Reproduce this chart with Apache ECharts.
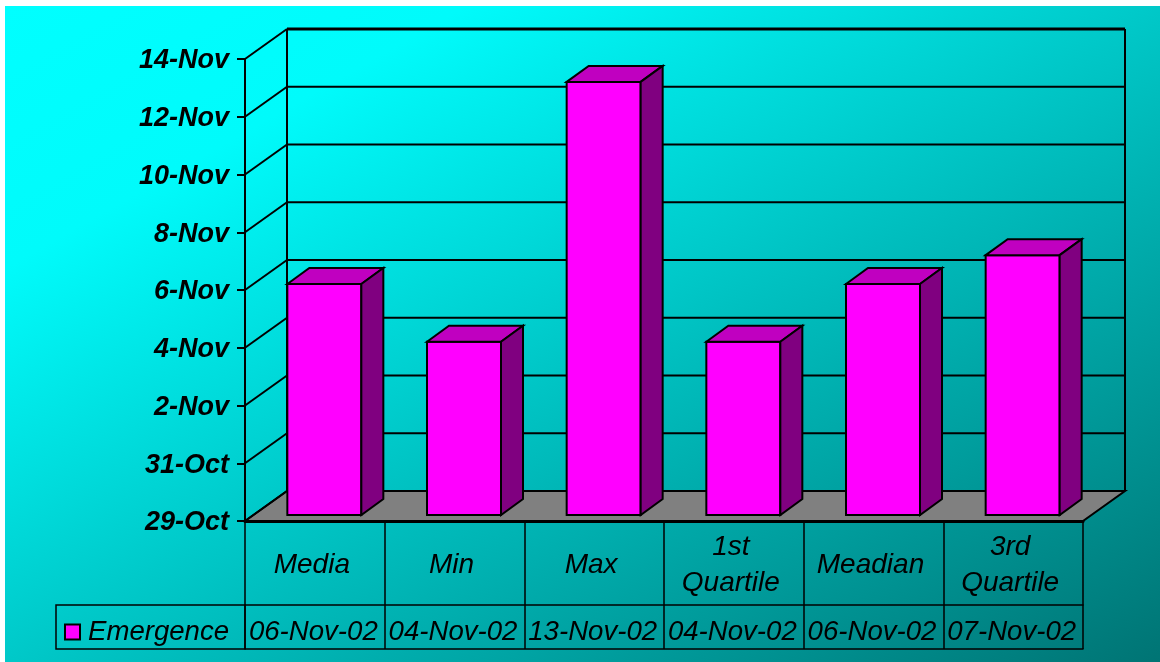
<!DOCTYPE html>
<html>
<head>
<meta charset="utf-8">
<script src="https://cdn.jsdelivr.net/npm/echarts@6/dist/echarts.min.js"></script>
<style>
  html, body { margin: 0; padding: 0; background: #fff; }
  #chart { width: 1160px; height: 662px; }
</style>
</head>
<body>
<div id="chart"></div>
<script>
const categories = ['Media', 'Min', 'Max', '1st\nQuartile', 'Meadian', '3rd\nQuartile'];
const emergenceDates = ['2002-11-06', '2002-11-04', '2002-11-13', '2002-11-04', '2002-11-06', '2002-11-07'];
const seriesName = 'Emergence';
const axisStart = '2002-10-29';
const axisEnd = '2002-11-14';
const tickDays = 2;

const MONTHS = ['Jan', 'Feb', 'Mar', 'Apr', 'May', 'Jun', 'Jul', 'Aug', 'Sep', 'Oct', 'Nov', 'Dec'];
const DAY_MS = 86400000;

// spreadsheet style day number, so the 2 day ticks start on an even value
const toSerial = (s) => Date.parse(s + 'T00:00:00Z') / DAY_MS + 25569;
const fromSerial = (n) => new Date((n - 25569) * DAY_MS);
const tickLabel = (n) => {
  const d = fromSerial(n);
  return d.getUTCDate() + '-' + MONTHS[d.getUTCMonth()];
};
const tableLabel = (s) => {
  const d = new Date(s + 'T00:00:00Z');
  const day = String(d.getUTCDate()).padStart(2, '0');
  return day + '-' + MONTHS[d.getUTCMonth()] + '-' + String(d.getUTCFullYear()).slice(2);
};

const yMin = toSerial(axisStart);
const yMax = toSerial(axisEnd);
const yTicks = [];
for (let v = yMin; v <= yMax; v += tickDays) yTicks.push(v);

// 3d look: wall offset and bar offset, in pixels
const WALL_DX = 42, WALL_DY = -30;
const BAR_DX = 9.5, BAR_DY = -6;
const BAR_W = 74;
const DEPTH_DX = 22, DEPTH_DY = -16;

const line = (x1, y1, x2, y2, w) => ({
  type: 'line',
  shape: { x1, y1, x2, y2 },
  style: { stroke: '#000', lineWidth: w || 2 }
});
const poly = (points, fill) => ({
  type: 'polygon',
  shape: { points },
  style: { fill, stroke: '#000', lineWidth: 2, lineJoin: 'miter' }
});

const chart = echarts.init(document.getElementById('chart'), null, { renderer: 'canvas' });

const textBase = { fontFamily: 'Liberation Sans', color: '#000', fontStyle: 'italic' };

chart.setOption({
  animation: false,
  graphic: [
    {
      type: 'rect',
      z: -100,
      silent: true,
      shape: { x: 5, y: 6, width: 1155, height: 656 },
      style: {
        fill: new echarts.graphic.LinearGradient(5, 6, 568, 998, [
          { offset: 0, color: '#00ffff' },
          { offset: 0.2, color: '#00fbfb' },
          { offset: 1, color: '#007474' }
        ], true)
      }
    },
    {
      // legend cell of the data table
      type: 'rect',
      z: 1,
      silent: true,
      shape: { x: 56, y: 605, width: 189, height: 44 },
      style: { fill: 'none', stroke: '#000', lineWidth: 1.5 }
    }
  ],
  legend: {
    left: 64,
    top: 618,
    padding: 0,
    itemWidth: 15,
    itemHeight: 15,
    itemGap: 0,
    selectedMode: false,
    textStyle: { ...textBase, fontSize: 27.6, padding: [0, 0, 0, 3] },
    data: [{ name: seriesName, icon: 'rect', itemStyle: { color: '#ff00ff', borderColor: '#000', borderWidth: 2 } }]
  },
  grid: { left: 245, right: 77, top: 59, bottom: 141, containLabel: false },
  xAxis: [
    {
      type: 'category',
      data: categories,
      position: 'bottom',
      axisLine: { lineStyle: { color: '#000', width: 3 } },
      axisTick: { show: true, length: 128, lineStyle: { color: '#000', width: 1.5 } },
      axisLabel: {
        ...textBase,
        fontSize: 28,
        lineHeight: 36,
        interval: 0,
        margin: 44,
        verticalAlign: 'middle',
        padding: [0, 6, 0, 0]
      }
    },
    {
      type: 'category',
      data: emergenceDates.map(tableLabel),
      position: 'bottom',
      offset: 84,
      axisLine: { lineStyle: { color: '#000', width: 1.5 } },
      axisTick: { show: false },
      axisLabel: {
        ...textBase,
        fontSize: 27.6,
        interval: 0,
        margin: 27,
        verticalAlign: 'middle',
        padding: [0, 3, 0, 0]
      }
    },
    {
      type: 'category',
      data: categories,
      position: 'bottom',
      offset: 128,
      axisLine: { lineStyle: { color: '#000', width: 1.5 } },
      axisTick: { show: false },
      axisLabel: { show: false }
    }
  ],
  yAxis: {
    type: 'value',
    min: yMin,
    max: yMax,
    interval: tickDays,
    splitLine: { show: false },
    axisLine: { show: true, lineStyle: { color: '#000', width: 2 } },
    axisTick: { show: true, length: 8, lineStyle: { color: '#000', width: 2 } },
    axisLabel: {
      fontFamily: 'Liberation Sans',
      fontStyle: 'italic',
      fontWeight: 'bold',
      fontSize: 27,
      color: '#000',
      margin: 16,
      verticalAlign: 'top',
      lineHeight: 4,
      formatter: tickLabel
    }
  },
  series: [
    {
      // floor of the 3d box, one item
      type: 'custom',
      name: 'floor',
      z: 1,
      silent: true,
      data: [[0, yMin]],
      encode: { x: 0, y: 1 },
      renderItem: (params, api) => {
        const c = params.coordSys;
        const b = c.y + c.height;
        return poly([
          [c.x, b],
          [c.x + WALL_DX, b + WALL_DY],
          [c.x + c.width + WALL_DX, b + WALL_DY],
          [c.x + c.width, b]
        ], '#808080');
      }
    },
    {
      // back wall lines, one per y tick
      type: 'custom',
      name: 'wall',
      z: 1,
      silent: true,
      data: yTicks.map((v) => [0, v]),
      encode: { x: 0, y: 1 },
      renderItem: (params, api) => {
        const c = params.coordSys;
        const y = api.coord([0, api.value(1)])[1];
        const backY = y + WALL_DY;
        const backL = c.x + WALL_DX;
        const backR = c.x + c.width + WALL_DX;
        const isTop = api.value(1) === yMax;
        const children = [
          line(c.x, y, backL, backY),
          line(backL, backY, backR, backY, isTop ? 3 : 2)
        ];
        if (isTop) {
          children.push(line(backL, backY, backL, c.y + c.height + WALL_DY));
          children.push(line(backR, backY, backR, c.y + c.height + WALL_DY));
        }
        return { type: 'group', children };
      }
    },
    {
      type: 'custom',
      name: seriesName,
      z: 3,
      itemStyle: { color: '#ff00ff' },
      data: emergenceDates.map((d, i) => [i, toSerial(d)]),
      encode: { x: 0, y: 1 },
      renderItem: (params, api) => {
        const top = api.coord([api.value(0), api.value(1)]);
        const base = api.coord([api.value(0), yMin]);
        const x0 = top[0] + BAR_DX - BAR_W / 2;
        const x1 = x0 + BAR_W;
        const yt = top[1] + BAR_DY;
        const yb = base[1] + BAR_DY;
        return {
          type: 'group',
          children: [
            poly([[x0, yb], [x0, yt], [x1, yt], [x1, yb]], '#ff00ff'),
            poly([[x0, yt], [x0 + DEPTH_DX, yt + DEPTH_DY], [x1 + DEPTH_DX, yt + DEPTH_DY], [x1, yt]], '#c000c0'),
            poly([[x1, yt], [x1 + DEPTH_DX, yt + DEPTH_DY], [x1 + DEPTH_DX, yb + DEPTH_DY], [x1, yb]], '#800080')
          ]
        };
      }
    }
  ]
});
</script>
</body>
</html>
